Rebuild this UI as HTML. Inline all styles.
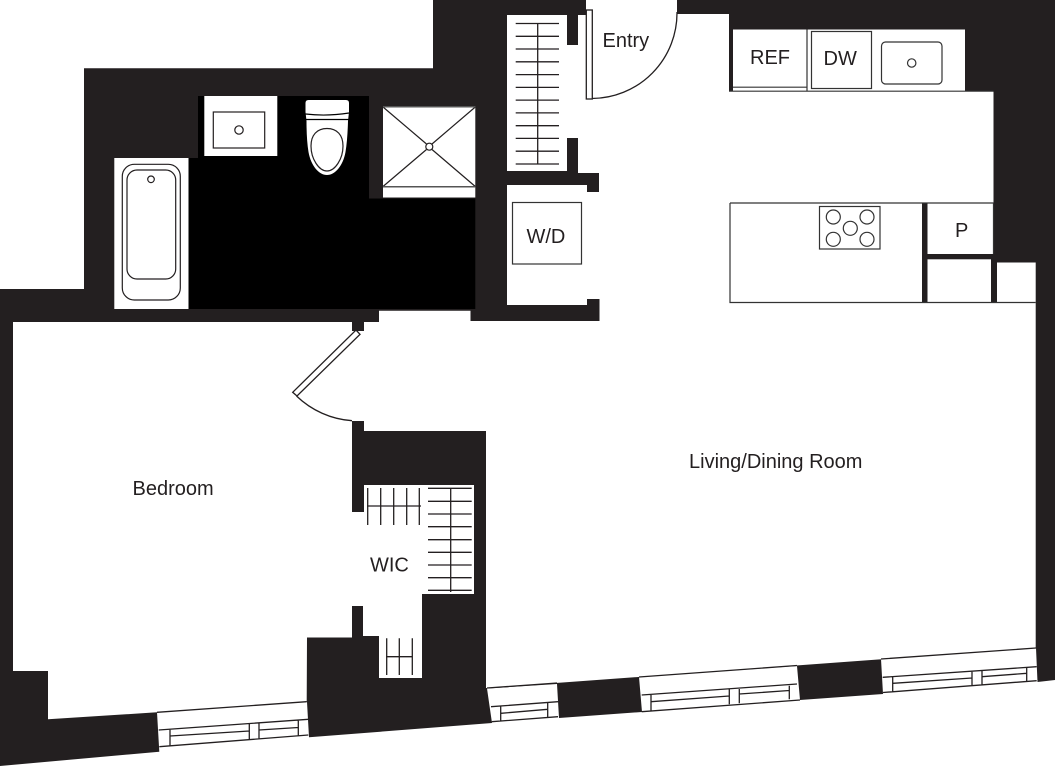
<!DOCTYPE html>
<html>
<head>
<meta charset="utf-8">
<style>
html,body{margin:0;padding:0;background:#fff;width:1056px;height:768px;overflow:hidden}
svg{display:block}
text{font-family:"Liberation Sans",sans-serif;font-size:20px;fill:#231f20}
</style>
</head>
<body>
<svg width="1056" height="768" viewBox="0 0 1056 768" xmlns="http://www.w3.org/2000/svg">
<rect width="1056" height="768" fill="#fff"/>
<!-- outer walls -->
<path fill="#231f20" d="M433,0H1055V680L1037.5,682L1036,648L881,659L883,694L800,700L797,666L639,677L642,712L559,718L557,684L487,688.5L492,723L309,737.3L307,702L157,712.3L159.3,751.7L0,766V289H84V68.3H433Z"/>
<!-- interior -->
<path fill="#fff" d="M586,0H677V14H729V91H993.5V262.5H1035.7V648L487,688L486,688V431H364V421H352V512H364V485H474V594H422V678H379V636H363V606H352V637.5H307L306.7,701.7L157,712.3L48,719.3V671H13V322H352V331H364V322H379V310.7H470.5V321H599.5V299H587V305H507V185H587V192H599V173H578V138H567V171H507V15H567V45H578V15H586Z"/>
<!-- kitchen dark strips -->
<g fill="#231f20">
<rect x="922" y="203" width="5.5" height="99.5"/>
<rect x="927" y="254" width="67" height="5.3"/>
<rect x="991" y="254" width="6" height="48.5"/>
</g>
<!-- kitchen counter -->
<rect x="733" y="29.5" width="232" height="61.5" fill="#fff"/>
<g fill="none" stroke="#333" stroke-width="1.2">
<path d="M729,91.2H993.5"/>
<path d="M733,87.2H807M807,29.5V91"/>
<rect x="811.5" y="31.5" width="60" height="57"/>
<rect x="881.5" y="42" width="60.5" height="42" rx="4"/>
<circle cx="911.7" cy="63" r="4.2"/>
<path d="M730,203H993.5V254M730,203V302.5H1035.7"/>
<rect x="819.5" y="206.5" width="60.5" height="42.5"/>
<circle cx="833.3" cy="217" r="7"/>
<circle cx="867" cy="217" r="7"/>
<circle cx="833.3" cy="239.3" r="7"/>
<circle cx="867" cy="239.3" r="7"/>
<circle cx="850.3" cy="228.3" r="7"/>
<rect x="512.5" y="202.5" width="69" height="61.5"/>
</g>
<!-- bathroom -->
<path fill="#000" d="M198,96H369V198.5H475.3V309H188.5V158H198Z"/>
<rect x="204.3" y="96" width="73" height="60" fill="#fff"/>
<rect x="114.3" y="158" width="74.2" height="151" fill="#fff"/>
<rect x="383" y="106.7" width="92.3" height="90.8" fill="#fff"/>
<g fill="none" stroke="#231f20" stroke-width="1.2">
<rect x="213.3" y="112" width="51.4" height="36"/>
<circle cx="239" cy="130" r="4.2"/>
<rect x="122.3" y="164.3" width="58" height="135.7" rx="12"/>
<rect x="127" y="170" width="48.7" height="109" rx="10"/>
<circle cx="151" cy="179.3" r="3.3"/>
<path d="M383,107L426.5,144M475.3,107L432,144M383,186.5L426.5,149.5M475.3,186.5L432,149.5"/>
<circle cx="429.3" cy="146.7" r="3.5"/>
</g>
<path d="M383,106.7H475.3M383,186.7H475.3" stroke="#555" stroke-width="1.5" fill="none"/>
<path fill="#fff" d="M305.5,103Q305.5,100 308.5,100H346Q349,100 349,103V112L348,121Q347.5,140 345.5,152C343,166 335,175 327,175C319,175 311,166 308.5,152Q306.5,140 306.5,121L305.5,112Z"/>
<g fill="none" stroke="#000" stroke-width="1.2">
<path d="M305.5,114Q327,116.5 349,113"/>
<path d="M306,119.5H348.5"/>
<path d="M327,128.5C317,128.5 311,135 311,146C311,159 319,171 327,171C335,171 343,159 343,146C343,135 337,128.5 327,128.5Z" stroke="#231f20"/>
</g>
<!-- closet shelves -->
<g stroke="#231f20" stroke-width="1.3" fill="none">
<path d="M537.7,23V164"/>
<path d="M515.7,23.5H559M515.7,36.3H559M515.7,49H559M515.7,61.8H559M515.7,74.6H559M515.7,87.4H559M515.7,100.1H559M515.7,112.9H559M515.7,125.7H559M515.7,138.4H559M515.7,151.2H559M515.7,164H559"/>
<path d="M450.7,488V592"/>
<path d="M428,488.3H471.7M428,501.3H471.7M428,514H471.7M428,526.7H471.7M428,539.7H471.7M428,552.3H471.7M428,565H471.7M428,577.7H471.7M428,590.3H471.7"/>
<path d="M367.7,488V525M380.7,488V525M393.7,488V525M406.7,488V525M419.3,488V525M367,506H421"/>
<path d="M386.7,638.3V675M399.3,638.3V675M412.3,638.3V675M386,656.7H412.5"/>
</g>
<!-- doors -->
<g fill="#fff" stroke="#231f20" stroke-width="1.3">
<rect x="586.3" y="10" width="6" height="89"/>
<path d="M356,330L360,334.3L297,396L292.7,392.3Z"/>
</g>
<g fill="none" stroke="#231f20" stroke-width="1.3">
<path d="M592,98.5A85.5,85.5 0 0 0 677,12"/>
<path d="M296.5,396A89,89 0 0 0 352,420.7"/>
</g>
<!-- windows -->
<g fill="none" stroke="#231f20" stroke-width="1.3">
<path d="M157,712.3L306.7,701.7"/>
<path d="M158.7,730L308.3,719.3M159.3,746.7L308.3,735M170,729V745.5M249.3,723V740M259,722.5V739M298.3,720V736M170,736L249.3,731M259,730L298.3,727.5"/>
<path d="M487,688L557,683M639,677L797,665.5M881,659L1036,648"/>
<path d="M491,706.7L558,701.7M491.7,721.7L558,716.7M500.7,705.7V721M547.7,702.3V717.3M501,713.3L547.7,709.3"/>
<path d="M641.7,695L797,684M641.7,711.7L800,700M651,695V710.5M729.3,689.3V704.3M739.3,689V703.3M789.3,685.7V699.3M651,701.7L729.3,696M739.3,694L789.3,690.5"/>
<path d="M882.7,677.3L1036.7,666.7M883,692.5L1036.7,680.7M892.7,677V692M972,671.7V686M982,670.7V685M1026.7,667.3V681.7M893,683.3L972,678M982,676.7L1026.7,673.3"/>
</g>
<!-- labels -->
<text x="602.5" y="47">Entry</text>
<text x="750" y="64">REF</text>
<text x="823.5" y="65">DW</text>
<text x="526.5" y="243">W/D</text>
<text x="955" y="237">P</text>
<text x="689" y="468">Living/Dining Room</text>
<text x="132.5" y="495">Bedroom</text>
<text x="370" y="571.5">WIC</text>
</svg>
</body>
</html>
